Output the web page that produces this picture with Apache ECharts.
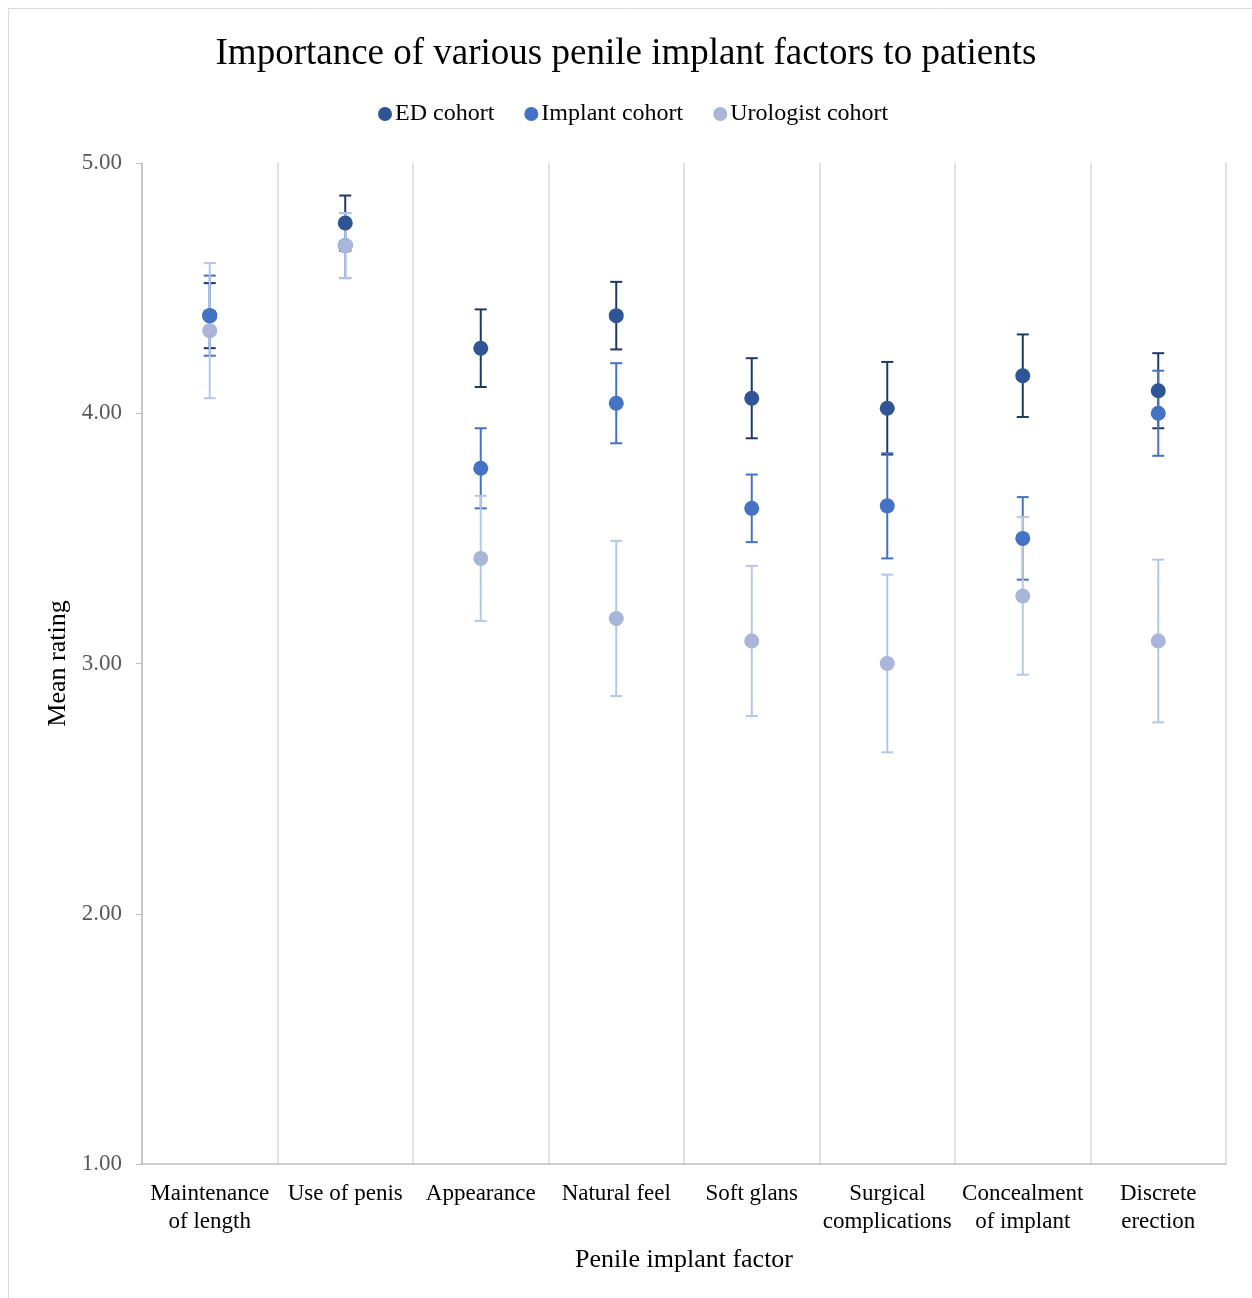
<!DOCTYPE html>
<html>
<head>
<meta charset="utf-8">
<script src="https://cdn.jsdelivr.net/npm/echarts@6/dist/echarts.min.js"></script>
<style>
  html, body { margin: 0; padding: 0; background: #fff; }
  #chart { width: 1252px; height: 1298px; }
</style>
</head>
<body>
<div id="chart"></div>
<script>
// categories on the x axis
var categories = ['Maintenance\nof length', 'Use of penis', 'Appearance', 'Natural feel',
  'Soft glans', 'Surgical\ncomplications', 'Concealment\nof implant', 'Discrete\nerection'];

// mean ratings and error (+/-) per cohort
var edMean = [4.39, 4.76, 4.26, 4.39, 4.06, 4.02, 4.15, 4.09];
var edErr = [0.13, 0.11, 0.155, 0.135, 0.16, 0.185, 0.165, 0.15];
var implantMean = [4.39, 4.67, 3.78, 4.04, 3.62, 3.63, 3.50, 4.00];
var implantErr = [0.16, 0.13, 0.16, 0.16, 0.135, 0.21, 0.165, 0.17];
var uroMean = [4.33, 4.67, 3.42, 3.18, 3.09, 3.00, 3.27, 3.09];
var uroErr = [0.27, 0.13, 0.25, 0.31, 0.30, 0.355, 0.315, 0.325];

var yTicks = [1, 2, 3, 4, 5];

var serif = '"Liberation Serif", "DejaVu Serif", serif';

function errData(mean, err) {
  return mean.map(function (m, i) { return [i, m - err[i], m + err[i]]; });
}

function errSeries(name, mean, err, color, dot) {
  return {
    name: name,
    type: 'custom',
    z: 1,
    silent: true,
    itemStyle: { color: dot },
    renderItem: function (params, api) {
      var lo = api.coord([api.value(0), api.value(1)]);
      var hi = api.coord([api.value(0), api.value(2)]);
      var w = 6;
      var st = { stroke: color, lineWidth: 2 };
      return {
        type: 'group',
        children: [
          { type: 'line', shape: { x1: lo[0], y1: lo[1], x2: hi[0], y2: hi[1] }, style: st },
          { type: 'line', shape: { x1: lo[0] - w, y1: lo[1], x2: lo[0] + w, y2: lo[1] }, style: st },
          { type: 'line', shape: { x1: hi[0] - w, y1: hi[1], x2: hi[0] + w, y2: hi[1] }, style: st }
        ]
      };
    },
    encode: { x: 0, y: [1, 2] },
    data: errData(mean, err)
  };
}

function dotSeries(name, mean, color, z) {
  return {
    name: name,
    type: 'scatter',
    symbol: 'circle',
    symbolSize: 15,
    z: z,
    itemStyle: { color: color, opacity: 1 },
    data: mean.map(function (m, i) { return [i, m]; })
  };
}

var chart = echarts.init(document.getElementById('chart'));
chart.setOption({
  animation: false,
  backgroundColor: '#fff',
  textStyle: { fontFamily: serif },
  graphic: [{
    type: 'rect',
    shape: { x: 8.5, y: 8.5, width: 1260, height: 1300 },
    style: { fill: 'none', stroke: '#d9d9d9', lineWidth: 1 },
    silent: true
  }],
  title: {
    text: 'Importance of various penile implant factors to patients',
    left: 'center',
    top: 31,
    textStyle: { fontFamily: serif, fontSize: 37, fontWeight: 'normal', color: '#000' }
  },
  legend: {
    top: 97,
    left: 373,
    itemWidth: 14,
    itemHeight: 14,
    itemGap: 30,
    icon: 'circle',
    data: ['ED cohort', 'Implant cohort', 'Urologist cohort'],
    textStyle: { fontFamily: serif, fontSize: 24, color: '#000', padding: [0, 0, 0, -2] }
  },
  grid: { left: 142, right: 26, top: 163, bottom: 134 },
  xAxis: {
    type: 'category',
    data: categories,
    boundaryGap: true,
    name: 'Penile implant factor',
    nameLocation: 'middle',
    nameGap: 83,
    nameTextStyle: { fontFamily: serif, fontSize: 26, color: '#000' },
    axisLine: { lineStyle: { color: '#bfbfbf', width: 1.5 } },
    axisTick: { show: false },
    splitLine: { show: true, lineStyle: { color: '#d9d9d9', width: 1.5 } },
    axisLabel: { fontFamily: serif, fontSize: 23, color: '#000', margin: 16, lineHeight: 28, interval: 0 }
  },
  yAxis: {
    type: 'value',
    min: 1,
    max: 5,
    interval: 1,
    name: 'Mean rating',
    nameLocation: 'middle',
    nameGap: 71,
    nameTextStyle: { fontFamily: serif, fontSize: 26, color: '#000' },
    axisLine: { show: true, lineStyle: { color: '#bfbfbf', width: 1.5 } },
    axisTick: { show: true, length: 6, lineStyle: { color: '#bfbfbf' } },
    splitLine: { show: false },
    axisLabel: {
      fontFamily: serif, fontSize: 23, color: '#595959', margin: 20,
      formatter: function (v) { return yTicks.indexOf(v) >= 0 ? v.toFixed(2) : ''; }
    }
  },
  series: [
    errSeries('ED cohort', edMean, edErr, '#203864', '#2f5597'),
    errSeries('Implant cohort', implantMean, implantErr, '#4472c4', '#4472c4'),
    errSeries('Urologist cohort', uroMean, uroErr, '#b4c7e7', '#a9b6da'),
    dotSeries('ED cohort', edMean, '#2f5597', 3),
    dotSeries('Implant cohort', implantMean, '#4472c4', 4),
    dotSeries('Urologist cohort', uroMean, '#a9b6da', 5)
  ]
});
</script>
</body>
</html>
